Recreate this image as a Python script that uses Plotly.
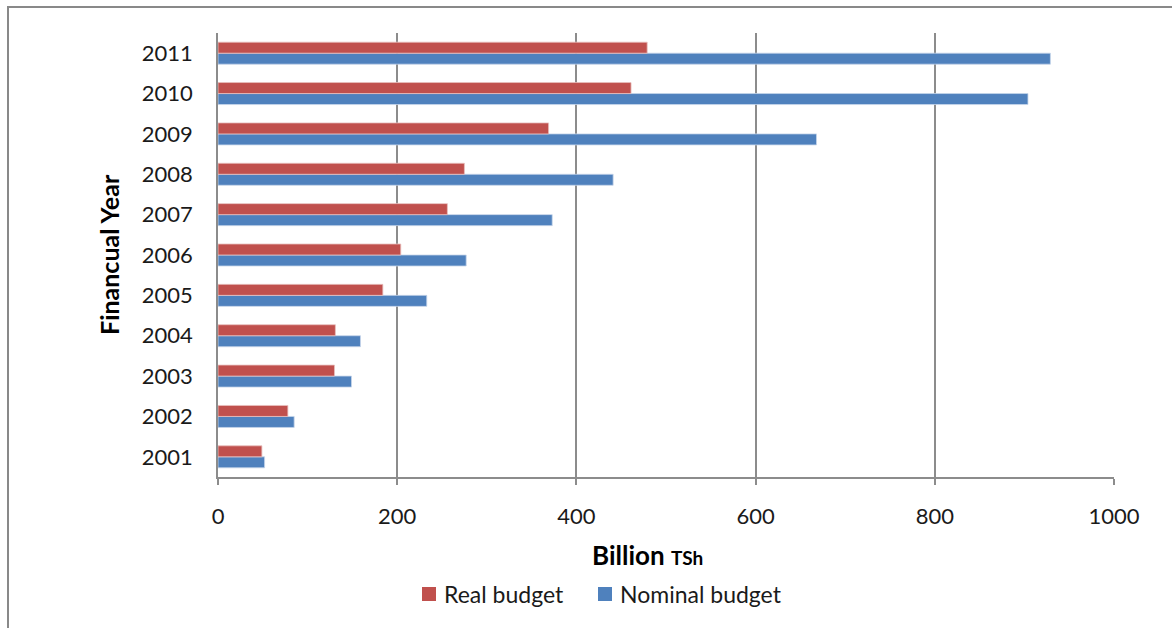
import plotly.graph_objects as go

# Budget by financial year (billion TSh)
years = ["2001", "2002", "2003", "2004", "2005", "2006",
         "2007", "2008", "2009", "2010", "2011"]
real_budget = [49, 78, 130, 131, 184, 204, 256, 275, 369, 461, 479]
nominal_budget = [52, 85, 149, 159, 233, 277, 373, 441, 668, 904, 929]
x_ticks = [0, 200, 400, 600, 800, 1000]

RED = "#C0504D"
BLUE = "#4F81BD"
GRID = "#8C8C8C"
FONT = "Lato, 'Open Sans', sans-serif"

# plot area in pixels, used to place legend keys and titles
L, R, T, B = 218, 1114, 33, 477


def px_x(p):
    return (p - L) / (R - L)


def px_y(p):
    return (B - p) / (B - T)


fig = go.Figure()
# Nominal first so it sits below Real within each year group
fig.add_trace(go.Bar(
    y=years, x=nominal_budget, orientation="h", name="Nominal budget",
    marker=dict(color=BLUE, line=dict(color="#C6D6EA", width=0.8)),
    showlegend=False,
))
fig.add_trace(go.Bar(
    y=years, x=real_budget, orientation="h", name="Real budget",
    marker=dict(color=RED, line=dict(color="#E8C0BF", width=0.8)),
    showlegend=False,
))

legend_items = [("Real budget", RED, 422), ("Nominal budget", BLUE, 598)]
shapes = [
    # outer chart frame
    dict(type="rect", xref="paper", yref="paper",
         x0=px_x(8), x1=1.3, y0=-0.6, y1=px_y(7),
         line=dict(color="#898989", width=2), layer="below"),
]
annotations = [
    dict(text="<b>Financual Year</b>", xref="paper", yref="paper",
         x=px_x(109), y=0.5, xanchor="center", yanchor="middle",
         textangle=-90, showarrow=False,
         font=dict(family=FONT, size=25, color="#000000")),
    dict(text="<b>Billion <span style='font-size:19px'>TSh</span></b>",
         xref="paper", yref="paper", x=px_x(647), y=px_y(555),
         xanchor="center", yanchor="middle", showarrow=False,
         font=dict(family=FONT, size=26, color="#000000")),
]
for label, color, left in legend_items:
    shapes.append(dict(type="rect", xref="paper", yref="paper",
                       x0=px_x(left), x1=px_x(left + 14),
                       y0=px_y(601), y1=px_y(587),
                       fillcolor=color, line=dict(width=0)))
    annotations.append(dict(text=label, xref="paper", yref="paper",
                            x=px_x(left + 20), y=px_y(594),
                            xanchor="left", yanchor="middle", showarrow=False,
                            font=dict(family=FONT, size=23, color="#1a1a1a")))

fig.update_layout(
    width=1172, height=628,
    margin=dict(l=L, r=1172 - R, t=T, b=628 - B),
    paper_bgcolor="white", plot_bgcolor="white",
    barmode="group", bargap=0.455, bargroupgap=0,
    font=dict(family=FONT, size=22, color="#1a1a1a"),
    showlegend=False,
    xaxis=dict(
        range=[0, 1000], tickvals=x_ticks, ticktext=[str(v) for v in x_ticks],
        showgrid=True, gridcolor=GRID, gridwidth=1.5,
        showline=True, linecolor=GRID, linewidth=1.5,
        ticks="outside", ticklen=6, tickcolor=GRID, tickwidth=1.5,
        ticklabelstandoff=13, zeroline=False,
        tickfont=dict(family=FONT, size=22),
    ),
    yaxis=dict(
        type="category", categoryorder="array", categoryarray=years,
        showgrid=False, showline=True, linecolor=GRID, linewidth=1.5,
        ticks="", ticklabelstandoff=19,
        tickfont=dict(family=FONT, size=22),
    ),
    annotations=annotations,
    shapes=shapes,
)

fig.write_html("out.html")
